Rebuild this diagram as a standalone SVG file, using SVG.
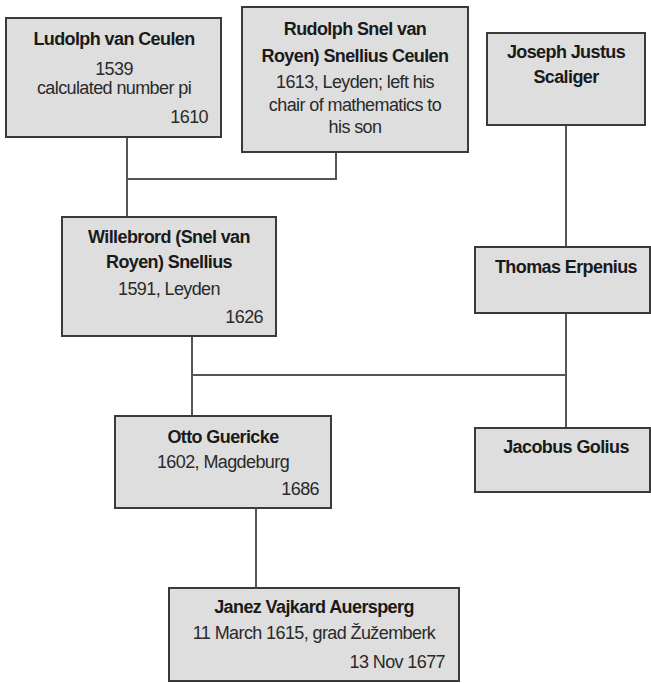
<svg xmlns="http://www.w3.org/2000/svg" width="651" height="683" viewBox="0 0 651 683">
<style>
.box{fill:#dedede;stroke:#3a3a3a;stroke-width:2}
.t{font-family:"Liberation Sans",Arial,sans-serif;font-size:18px;letter-spacing:-0.6px;font-weight:bold;fill:#1a1a1a;text-anchor:middle}
.n{font-family:"Liberation Sans",Arial,sans-serif;font-size:18px;letter-spacing:-0.6px;fill:#2a2a2a;text-anchor:middle}
.r{text-anchor:end}
.c{fill:none;stroke:#555;stroke-width:2}
</style>
<rect width="651" height="683" fill="#fff"/>
<g id="connectors">
<path class="c" d="M127 137V217M127 179H336V152"/>
<path class="c" d="M192 336V416M192 375H566"/>
<path class="c" d="M566 125V247M566 313V428"/>
<path class="c" d="M256 508V588"/>
</g>
<g id="ludolph">
<rect class="box" x="6" y="18" width="215" height="119"/>
<text class="t" x="114" y="45">Ludolph van Ceulen</text>
<text class="n" x="114" y="75">1539</text>
<text class="n" x="114" y="94">calculated number pi</text>
<text class="n r" x="208" y="123">1610</text>
</g>
<g id="rudolph">
<rect class="box" x="242" y="7" width="226" height="145"/>
<text class="t" x="355" y="35">Rudolph Snel van</text>
<text class="t" x="355" y="62">Royen) Snellius Ceulen</text>
<text class="n" x="355" y="88">1613, Leyden; left his</text>
<text class="n" x="355" y="111">chair of mathematics to</text>
<text class="n" x="355" y="133">his son</text>
</g>
<g id="joseph">
<rect class="box" x="487" y="33" width="158" height="92"/>
<text class="t" x="566" y="58">Joseph Justus</text>
<text class="t" x="566" y="83">Scaliger</text>
</g>
<g id="thomas">
<rect class="box" x="475" y="247" width="175" height="66"/>
<text class="t" x="566" y="273">Thomas Erpenius</text>
</g>
<g id="willebrord">
<rect class="box" x="62" y="217" width="214" height="119"/>
<text class="t" x="169" y="243">Willebrord (Snel van</text>
<text class="t" x="169" y="268">Royen) Snellius</text>
<text class="n" x="169" y="295">1591, Leyden</text>
<text class="n r" x="263" y="323">1626</text>
</g>
<g id="otto">
<rect class="box" x="115" y="416" width="216" height="92"/>
<text class="t" x="223" y="443">Otto Guericke</text>
<text class="n" x="223" y="468">1602, Magdeburg</text>
<text class="n r" x="319" y="495">1686</text>
</g>
<g id="jacobus">
<rect class="box" x="475" y="428" width="175" height="64"/>
<text class="t" x="566" y="453">Jacobus Golius</text>
</g>
<g id="janez">
<rect class="box" x="169" y="588" width="290" height="93"/>
<text class="t" x="314" y="613">Janez Vajkard Auersperg</text>
<text class="n" x="314" y="639">11 March 1615, grad Žužemberk</text>
<text class="n r" x="445" y="668">13 Nov 1677</text>
</g>
</svg>
